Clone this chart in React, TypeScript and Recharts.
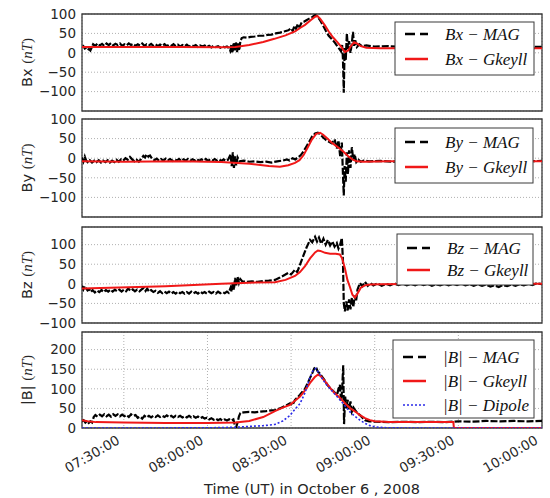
import { LineChart, Line, XAxis, YAxis, CartesianGrid, ReferenceArea, Label } from 'recharts';

type Pt = [number, number];

// time axis: minutes after 07:00 UT
const timeDomain: [number, number] = [15, 180];
const timeTicks = [30, 60, 90, 120, 150, 180];

const fieldTicks = [-100, -50, 0, 50, 100];
const magTicks = [0, 50, 100, 150, 200];

const bxMag: Pt[] = [
  [15, 14], [15.5, 17], [16, 11], [16.5, 13], [17, 7], [17.5, 10], [18, 6], [18.5, 14], [19, 22], [19.8, 18],
  [20.6, 24], [21.4, 19], [22.2, 23], [23, 18], [23.8, 24], [24.6, 20], [25.4, 25], [26.2, 19], [27, 23], [27.8, 20],
  [28.6, 24], [29.4, 18], [30.2, 22], [31, 19], [31.8, 24], [32.6, 20], [33.4, 23], [34.2, 18], [35, 22], [35.8, 19],
  [36.6, 24], [37.4, 18], [38.2, 22], [39, 19], [39.8, 23], [40.6, 18], [41.4, 22], [42.2, 17], [43, 21], [43.8, 18],
  [44.6, 22], [45.4, 17], [46.2, 21], [47, 18], [47.8, 22], [48.6, 17], [49.4, 21], [50.2, 16], [51, 20], [51.8, 17],
  [52.6, 21], [53.4, 16], [54.2, 20], [55, 17], [55.8, 20], [56.6, 15], [57.4, 19], [58.2, 16], [59, 19], [59.8, 15],
  [60.6, 18], [61.4, 14], [62.2, 18], [63, 15], [63.8, 17], [64.6, 13], [65.4, 17], [66.2, 14], [67, 16], [67.6, 13],
  [68.2, 5], [68.6, 22], [69, 0], [69.4, 26], [69.8, 4], [70.2, 28], [70.6, 2], [71, 24], [71.4, 6], [71.8, 30],
  [72.3, 38], [73, 40], [74, 39], [75.5, 41], [77, 42], [78.5, 44], [80, 44], [81.5, 46], [83, 47], [84.5, 50],
  [86, 52], [87.5, 55], [89, 58], [90, 63], [90.6, 56], [91.2, 70], [91.8, 62], [92.4, 74], [93, 66], [93.8, 78],
  [94.6, 80], [95.5, 84], [96.5, 88], [97.5, 92], [98.6, 97], [99.4, 94], [100.4, 84], [101.5, 70], [102.5, 56], [103.5, 44],
  [104.5, 36], [105.5, 28], [106.5, 18], [107.3, 10], [107.9, 4], [108.3, 20], [108.6, -15], [108.9, -103], [109.2, 12], [109.6, -20],
  [110, 50], [110.4, 10], [110.8, 30], [111.3, 0], [111.8, 25], [112.2, 54], [112.6, 18], [113, 32], [113.6, 15], [114.5, 22],
  [115.5, 17], [117, 19], [120, 16], [125, 17], [130, 15], [135, 16], [140, 15], [145, 16], [150, 15], [155, 16],
  [160, 15], [165, 16], [170, 15], [175, 16], [180, 15],
];
const bxModel: Pt[] = [
  [15, 15], [30, 15], [50, 15], [65, 14], [70, 15], [75, 20], [80, 28], [84, 36], [88, 45], [91.4, 55],
  [93.2, 64], [95, 72], [97, 84], [98.6, 93], [99.4, 95], [100.4, 88], [102, 72], [103.5, 55], [105, 40], [106.5, 28],
  [108, 15], [109.3, 2], [110.5, 6], [111.5, 18], [112.6, 27], [113.6, 24], [115, 17], [117, 13], [122, 12], [140, 12],
  [160, 12], [180, 12],
];

const byMag: Pt[] = [
  [15, 2], [15.5, -8], [16, 4], [16.5, -6], [17, -10], [17.8, -5], [18.6, -11], [19.4, -6], [20.2, -10], [21, -5],
  [21.8, -11], [22.6, -6], [23.4, -10], [24.2, -5], [25, -11], [25.8, -6], [26.6, -10], [27.4, -4], [28.2, -9], [29, -3],
  [29.8, -6], [30.6, 0], [31.4, -4], [32.2, 3], [33, -3], [33.8, -8], [34.6, -4], [35.4, -9], [36.2, -2], [37, 6],
  [37.6, 2], [38.2, 10], [38.8, 4], [39.4, 7], [40.2, -2], [41, -5], [41.8, -1], [42.6, -6], [43.4, -2], [44.2, -6],
  [45, -1], [45.8, -5], [46.6, -2], [47.4, -7], [48.2, -3], [49, -6], [49.8, -2], [50.6, -7], [51.4, -3], [52.2, -6],
  [53, -2], [53.8, -7], [54.6, -3], [55.4, -6], [56.2, -2], [57, -7], [57.8, -3], [58.6, -6], [59.4, -2], [60.2, -7],
  [61, -3], [61.8, -6], [62.6, -2], [63.4, -6], [64.2, -3], [65, -7], [65.8, -3], [66.6, -7], [67.4, -4],
  [68.3, 10], [68.7, -20], [69.1, 15], [69.5, -25], [69.9, 5], [70.3, -18], [70.8, 2],
  [71.5, -8], [73, -6], [75, -9], [77, -8], [79, -10], [81, -9], [83, -11], [85, -8], [87, -6], [88.5, -3],
  [89.5, -6], [90.5, 0], [91.5, -3], [92.5, 2], [93.5, 8], [94.5, 18], [95.5, 30], [96.5, 42], [97.5, 55], [98.6, 63],
  [99.6, 65], [100.6, 60], [101.6, 52], [102.6, 46], [103.6, 42], [104.6, 38], [105.6, 48], [106.4, 25], [107, 45], [107.6, 5],
  [108.2, 40], [108.6, -40], [108.9, -95], [109.2, -20], [109.6, -60], [110, 15], [110.4, -40], [110.8, 20], [111.3, -25], [111.8, 28],
  [112.3, -5], [112.8, 10], [113.4, -10], [114.2, -4], [115, -9], [116, -6], [118, -8], [122, -7], [126, -9], [130, -8],
  [135, -7], [140, -8], [145, -7], [150, -8], [160, -7], [170, -8], [180, -7],
];
const byModel: Pt[] = [
  [15, -8], [30, -9], [50, -8], [65, -10], [75, -14], [82, -20], [86, -22], [89, -18], [91.4, -12], [93, -5],
  [94.5, 8], [96, 28], [97.5, 48], [99, 62], [100.4, 65], [101.5, 60], [103, 50], [104.5, 40], [106, 32], [107.5, 24],
  [109, 15], [110.5, 5], [112, -3], [113.5, -8], [116, -9], [125, -8], [180, -8],
];

const bzMag: Pt[] = [
  [15, -5], [15.5, -14], [16, -6], [16.5, -12], [17, -17], [17.6, -14], [18.2, -21], [18.8, -16], [19.6, -22], [20.4, -17],
  [21.2, -21], [22, -16], [22.8, -21], [23.6, -16], [24.4, -20], [25.2, -15], [26, -20], [26.8, -15], [27.6, -19], [28.4, -15],
  [29.2, -20], [30, -15], [30.8, -19], [31.6, -12], [32.4, -18], [33.2, -14], [34, -19], [34.8, -15], [35.6, -19], [36.4, -14],
  [37.2, -10], [37.8, -18], [38.4, -12], [39, -20], [39.8, -16], [40.6, -21], [41.4, -18], [42.2, -23], [43, -19], [43.8, -24],
  [44.6, -20], [45.4, -24], [46.2, -20], [47, -25], [47.8, -21], [48.6, -25], [49.4, -20], [50.2, -24], [51, -21], [51.8, -25],
  [52.6, -21], [53.4, -25], [54.2, -20], [55, -24], [55.8, -21], [56.6, -25], [57.4, -20], [58.2, -24], [59, -21], [59.8, -25],
  [60.6, -20], [61.4, -24], [62.2, -21], [63, -25], [63.8, -20], [64.6, -24], [65.4, -21], [66.2, -24], [67, -20], [67.6, -23],
  [68.3, -10], [68.7, -20], [69.1, 5], [69.5, -15], [69.9, 15], [70.3, -5], [70.8, 18], [71.3, 2], [71.8, 12], [72.5, 6],
  [74, 5], [76, 6], [78, 5], [80, 7], [82, 8], [84.2, 10], [86, 16], [87.8, 23], [89, 28], [90, 24],
  [91.4, 36], [92.2, 30], [93, 45], [94.3, 70], [95.5, 92], [96.8, 112], [97.6, 106], [98.6, 120], [99.3, 108], [100, 118],
  [100.8, 102], [101.6, 115], [102.4, 100], [103.2, 112], [104, 98], [104.8, 108], [105.6, 95], [106.4, 104], [107, 90], [107.6, 100],
  [108.2, 117], [108.6, 60], [108.9, -50], [109.3, -70], [109.8, -45], [110.3, -68], [110.8, -40], [111.3, -65], [111.8, -35], [112.3, -60],
  [112.8, -30], [113.3, -45], [113.8, -15], [114.7, 2], [115.5, -6], [116.5, 5], [117.5, -5], [118.5, 2], [119.5, -4], [121, 1],
  [122.5, -5], [124, 0], [125.5, -4], [127, 1], [128.5, -3], [130, 1], [131.5, -4], [133, 0], [134.5, -4], [136, 1],
  [137.5, -3], [139, 0], [140.5, -5], [142, -1], [143.5, -4], [145, 0], [146.5, -4], [148, 0], [149.5, -3], [151, 1],
  [152.5, -4], [154, -1], [155.5, -5], [157, -1], [158.5, -5], [160, -2], [161.5, -7], [163, -4], [164.5, -8], [166, -3],
  [167.5, -6], [169, -2], [170.5, -5], [172, -1], [173.5, -4], [175, 0], [176.5, -3], [178, 1], [180, -1],
];
const bzModel: Pt[] = [
  [15, -12], [25, -10], [35, -8], [45, -6], [55, -3], [65, 0], [75, 3], [84.2, 4], [88, 10], [91.4, 20],
  [93.2, 30], [95, 45], [96.8, 65], [98.6, 80], [99.6, 85], [100.5, 84], [102.2, 79], [104, 77], [106, 77], [107.5, 75],
  [108.3, 65], [109.3, 40], [110.2, 10], [111.1, -8], [112, -28], [112.9, -35], [113.8, -25], [115, -10], [116.5, -4], [118.3, -2],
  [122, -1], [140, 0], [180, 0],
];

const bMag: Pt[] = [
  [15, 17], [15.6, 20], [16.2, 14], [16.8, 18], [17.4, 13], [18, 17], [18.6, 14], [19.2, 28], [19.8, 33], [20.6, 29],
  [21.4, 34], [22.2, 30], [23, 35], [23.8, 30], [24.6, 34], [25.4, 29], [26.2, 35], [27, 31], [27.8, 35], [28.6, 30],
  [29.4, 34], [30.2, 30], [31, 33], [31.8, 28], [32.6, 35], [33.4, 31], [34.2, 33], [35, 26], [35.8, 29], [36.6, 24],
  [37.4, 31], [38.2, 27], [39, 31], [39.8, 27], [40.6, 31], [41.4, 28], [42.2, 32], [43, 28], [43.8, 31], [44.6, 28],
  [45.4, 32], [46.2, 28], [47, 31], [47.8, 27], [48.6, 31], [49.4, 28], [50.2, 31], [51, 27], [51.8, 30], [52.6, 27],
  [53.4, 31], [54.2, 27], [55, 30], [55.8, 26], [56.6, 29], [57.4, 25], [58.2, 28], [59, 24], [59.8, 26], [60.6, 22],
  [61.4, 25], [62.2, 21], [63, 24], [63.8, 20], [64.6, 23], [65.4, 19], [66.2, 22], [67, 19], [67.8, 22], [68.5, 19],
  [69.3, 22], [69.8, 8], [70.3, 2], [70.8, 14], [71.3, 30], [71.8, 38], [73, 40], [75, 41], [77, 40], [79, 42],
  [81, 43], [83, 45], [84.2, 46], [86, 50], [87.8, 56], [89.6, 63], [90.5, 58], [91.4, 72], [92.3, 78], [93.2, 85],
  [94, 92], [95, 100], [96, 115], [96.8, 128], [97.6, 140], [98.3, 152], [98.9, 156], [99.5, 145], [100.2, 140], [101.1, 131],
  [102, 122], [103, 110], [104, 102], [105, 95], [106, 88], [106.5, 84], [107, 100], [107.5, 110], [107.9, 70], [108.3, 95],
  [108.7, 160], [109, 10], [109.4, 80], [109.8, 50], [110.3, 72], [110.8, 48], [111.3, 68], [111.8, 42], [112.4, 52], [112.9, 46],
  [113.8, 38], [114.7, 33], [115.6, 26], [116.5, 20], [118, 17], [120.1, 16], [125, 15], [130, 16], [135, 15], [140, 16],
  [145, 15], [150, 17], [155, 16], [160, 18], [165, 17], [170, 18], [175, 17], [180, 18],
];
const bModel: Pt[] = [
  [15, 20], [17, 17], [20, 15], [30, 14], [45, 13], [60, 13], [70, 14], [75, 18], [80, 28], [84.2, 43],
  [87, 52], [89.6, 59], [91.5, 70], [93.2, 80], [95, 96], [96.8, 115], [98.5, 130], [99.6, 136], [100.5, 133], [101.5, 125],
  [103, 112], [104, 102], [105.5, 90], [107.5, 77], [109.5, 62], [111.1, 51], [113, 42], [114.7, 33], [116.5, 25], [118.3, 20],
  [120, 17], [125, 15], [135, 15], [148.2, 15], [148.4, 0], [160, 0], [180, 0],
];
const bDipole: Pt[] = [
  [15, 0], [40, 0], [60, 0.5], [64.5, 1], [70, 2], [75, 4], [80, 6], [84.2, 9], [87, 18], [89.6, 32],
  [91.4, 48], [93.2, 62], [95, 90], [96.8, 130], [98, 148], [98.9, 152], [100, 140], [101.1, 127], [102.5, 112], [104, 100],
  [106, 84], [107.5, 72], [109.5, 55], [111.1, 41], [112.9, 30], [114.7, 20], [116.5, 12], [118.3, 6], [120.1, 3], [123, 1],
  [130, 0], [180, 0],
];

const BLACK = '#000000';
const RED = '#f01818';
const BLUE = '#2a2ae8';
const FRAME = '#3a3a3a';
const TEXT = '#262626';
const MAG_DASH = '7 2';

type Series = { name: string; pts: Pt[]; color: string; dash?: string; width: number; key: string };
type PanelCfg = {
  comp: string;
  top: number;
  bottom: number;
  domain: [number, number];
  ticks: number[];
  series: Series[];
  legend: { x: number; y: number; w: number; h: number; rows: number[] };
  showTime?: boolean;
};

const mag = (comp: string, pts: Pt[]): Series => ({
  key: 'mag', name: `${comp} − MAG`, pts, color: BLACK, dash: MAG_DASH, width: 2.2,
});
const gkeyll = (comp: string, pts: Pt[]): Series => ({
  key: 'gkeyll', name: `${comp} − Gkeyll`, pts, color: RED, width: 2,
});

const panels: PanelCfg[] = [
  {
    comp: 'Bx', top: 14, bottom: 111, domain: [-150, 100], ticks: fieldTicks,
    series: [mag('Bx', bxMag), gkeyll('Bx', bxModel)],
    legend: { x: 395, y: 22, w: 139, h: 53, rows: [12, 37] },
  },
  {
    comp: 'By', top: 119, bottom: 217, domain: [-150, 100], ticks: fieldTicks,
    series: [mag('By', byMag), gkeyll('By', byModel)],
    legend: { x: 395, y: 128, w: 138, h: 55, rows: [14, 39] },
  },
  {
    comp: 'Bz', top: 227, bottom: 323, domain: [-100, 145], ticks: fieldTicks,
    series: [mag('Bz', bzMag), gkeyll('Bz', bzModel)],
    legend: { x: 397, y: 234, w: 136, h: 51, rows: [14, 36] },
  },
  {
    comp: '|B|', top: 332, bottom: 428, domain: [0, 245], ticks: magTicks,
    series: [
      mag('|B|', bMag),
      gkeyll('|B|', bModel),
      { key: 'dipole', name: '|B| − Dipole', pts: bDipole, color: BLUE, dash: '2 2', width: 1.6 },
    ],
    legend: { x: 393, y: 340, w: 141, h: 78, rows: [17, 41, 65] },
    showTime: true,
  },
];

const rows = (pts: Pt[]) => pts.map(([t, v]) => ({ t, v }));

const clock = (m: number) => {
  const h = 7 + Math.floor(m / 60);
  const mm = m % 60;
  return `${String(h).padStart(2, '0')}:${String(mm).padStart(2, '0')}:00`;
};

const ValueTick = (props: any) => {
  const { x, y, payload } = props;
  return (
    <text x={x} y={y} dy={4.8} textAnchor="end" fontFamily="DejaVu Sans" fontSize={13.5} fill={TEXT}>
      {String(payload.value).replace('-', '\u2212')}
    </text>
  );
};

const TimeTick = (props: any) => {
  const { x, y, payload } = props;
  return (
    <text
      transform={`translate(${x - 3},${y + 15}) rotate(-30)`}
      textAnchor="end"
      fontFamily="DejaVu Sans"
      fontSize={13.5}
      fill={TEXT}
    >
      {clock(payload.value)}
    </text>
  );
};

function Panel({ cfg }: { cfg: PanelCfg }) {
  // generous margins so the edge tick labels are not clipped; charts may overlap
  const mt = 10;
  const plotH = cfg.bottom - cfg.top;
  const axisH = cfg.showTime ? 70 : 0;
  const mb = cfg.showTime ? 0 : 10;
  const height = mt + plotH + axisH + mb;
  const cy = mt + plotH / 2;

  return (
    <div style={{ position: 'absolute', left: 0, top: cfg.top - mt }}>
      <LineChart width={550} height={height} margin={{ top: mt, right: 8, bottom: mb, left: 0 }}>
        <CartesianGrid stroke="#b0b0b0" strokeDasharray="1 2" />
        <XAxis
          dataKey="t"
          type="number"
          domain={timeDomain}
          ticks={timeTicks}
          interval={0}
          allowDataOverflow
          height={axisH}
          axisLine={false}
          tickLine={false}
          tickSize={0}
          tickMargin={0}
          tick={cfg.showTime ? <TimeTick /> : false}
        >
          {cfg.showTime && (
            <Label
              content={() => (
                <text x={312} y={height - 4} textAnchor="middle" fontFamily="DejaVu Sans" fontSize={14.5} fill={TEXT}>
                  Time (UT) in October 6 , 2008
                </text>
              )}
            />
          )}
        </XAxis>
        <YAxis
          type="number"
          domain={cfg.domain}
          ticks={cfg.ticks}
          interval={0}
          allowDataOverflow
          width={82}
          axisLine={false}
          tickLine={false}
          tickSize={0}
          tickMargin={6}
          tick={<ValueTick />}
        >
          <Label
            content={() => (
              <text
                transform={`translate(27,${cy}) rotate(-90)`}
                textAnchor="middle"
                dominantBaseline="central"
                fill={TEXT}
              >
                <tspan fontFamily="DejaVu Sans" fontSize={14.5}>{cfg.comp} </tspan>
                <tspan fontFamily="Liberation Serif" fontSize={15}>(</tspan>
                <tspan fontFamily="Liberation Serif" fontSize={15} fontStyle="italic">nT</tspan>
                <tspan fontFamily="Liberation Serif" fontSize={15}>)</tspan>
              </text>
            )}
          />
        </YAxis>
        {cfg.series.map((s) => (
          <Line
            key={s.key}
            data={rows(s.pts)}
            dataKey="v"
            name={s.name}
            type="linear"
            stroke={s.color}
            strokeWidth={s.width}
            strokeDasharray={s.dash}
            dot={false}
            activeDot={false}
            isAnimationActive={false}
          />
        ))}
        <ReferenceArea
          x1={timeDomain[0]}
          x2={timeDomain[1]}
          y1={cfg.domain[0]}
          y2={cfg.domain[1]}
          fill="none"
          stroke={FRAME}
          strokeWidth={1.3}
        />
      </LineChart>
    </div>
  );
}

function LegendBox({ cfg }: { cfg: PanelCfg }) {
  const { x, y, w, h, rows: ys } = cfg.legend;
  return (
    <g>
      <rect x={x} y={y} width={w} height={h} fill="#fff" stroke={FRAME} strokeWidth={1} />
      {cfg.series.map((s, i) => (
        <g key={s.key}>
          <line
            x1={x + 10}
            x2={x + 33}
            y1={y + ys[i]}
            y2={y + ys[i]}
            stroke={s.color}
            strokeWidth={s.key === 'dipole' ? 1.6 : 2.5}
            strokeDasharray={s.key === 'mag' ? '10 5' : s.dash}
          />
          <text
            x={x + 50}
            y={y + ys[i] + 6}
            fontFamily="Liberation Serif"
            fontStyle="italic"
            fontSize={17}
            fill="#111"
          >
            {s.name}
          </text>
        </g>
      ))}
    </g>
  );
}

export default function App() {
  return (
    <div style={{ position: 'absolute', left: 0, top: 0, width: 550, height: 498, background: '#fff' }}>
      {panels.map((p) => (
        <Panel key={p.comp} cfg={p} />
      ))}
      <svg
        width={550}
        height={498}
        style={{ position: 'absolute', left: 0, top: 0, pointerEvents: 'none' }}
      >
        {panels.map((p) => (
          <LegendBox key={p.comp} cfg={p} />
        ))}
      </svg>
    </div>
  );
}
